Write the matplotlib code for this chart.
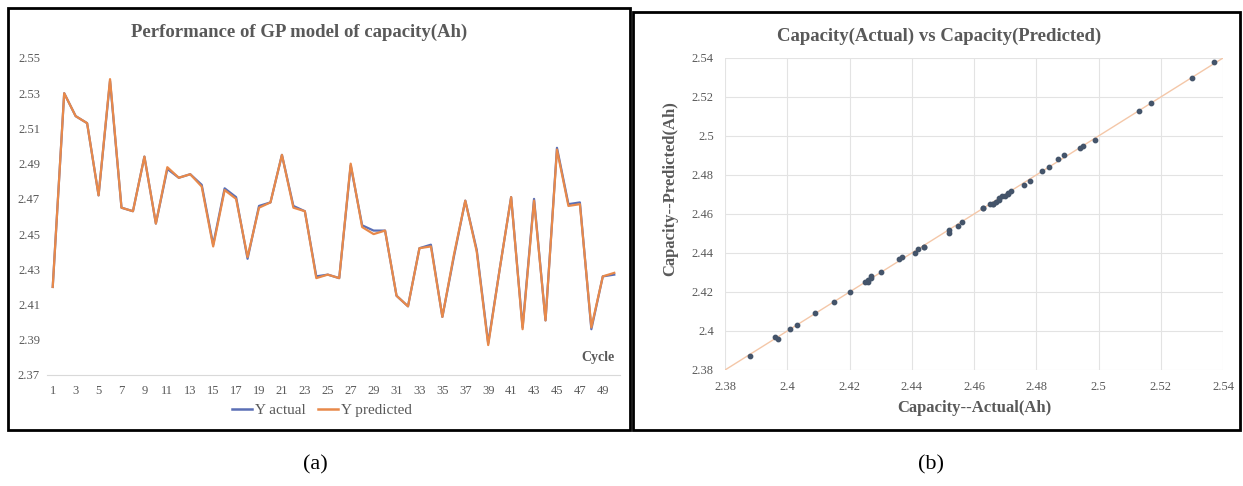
import matplotlib.pyplot as plt
from matplotlib.patches import Rectangle
from matplotlib.lines import Line2D

plt.rcParams['font.family'] = ['Liberation Serif', 'DejaVu Serif']

# Dane: pojemność rzeczywista i przewidywana (Ah) dla kolejnych cykli
cykle = list(range(1, 51))
y_actual = [2.420, 2.530, 2.517, 2.513, 2.472, 2.537, 2.465, 2.463, 2.494, 2.456,
            2.487, 2.482, 2.484, 2.478, 2.444, 2.476, 2.471, 2.436, 2.466, 2.468,
            2.495, 2.466, 2.463, 2.426, 2.427, 2.425, 2.489, 2.455, 2.452, 2.452,
            2.415, 2.409, 2.442, 2.444, 2.403, 2.437, 2.469, 2.441, 2.388, 2.430,
            2.471, 2.397, 2.470, 2.401, 2.499, 2.467, 2.468, 2.396, 2.426, 2.427]
y_predicted = [2.420, 2.530, 2.517, 2.513, 2.472, 2.538, 2.465, 2.463, 2.494, 2.456,
               2.488, 2.482, 2.484, 2.477, 2.443, 2.475, 2.470, 2.437, 2.465, 2.468,
               2.495, 2.465, 2.463, 2.425, 2.427, 2.425, 2.490, 2.454, 2.450, 2.452,
               2.415, 2.409, 2.442, 2.443, 2.403, 2.438, 2.469, 2.440, 2.387, 2.430,
               2.471, 2.396, 2.469, 2.401, 2.498, 2.466, 2.467, 2.397, 2.426, 2.428]

lewy_yticks = [2.37, 2.39, 2.41, 2.43, 2.45, 2.47, 2.49, 2.51, 2.53, 2.55]
prawy_ticks = [2.38, 2.40, 2.42, 2.44, 2.46, 2.48, 2.50, 2.52, 2.54]
prawy_labels = ["2.38", "2.4", "2.42", "2.44", "2.46", "2.48", "2.5", "2.52", "2.54"]

W, H = 1243, 486
szary = "#595959"
fig = plt.figure(figsize=(W / 100, H / 100), dpi=100)

def fx(px):
    return px / W

def fy(py):
    return 1 - py / H

# ramki wokół paneli
fig.patches.append(Rectangle((fx(8), fy(430)), fx(622), (422) / H, transform=fig.transFigure,
                             fill=False, edgecolor="black", linewidth=2))
fig.patches.append(Rectangle((fx(633), fy(430)), fx(607), (418) / H, transform=fig.transFigure,
                             fill=False, edgecolor="black", linewidth=2))

# --- Wykres (a): liniowy ---
ax1 = fig.add_axes([fx(47), fy(375), fx(573), (375 - 58) / H])
ax1.plot(cykle, y_actual, color="#5B6FB5", linewidth=1.6, label="Y actual")
ax1.plot(cykle, y_predicted, color="#E8894A", linewidth=1.6, label="Y predicted")
ax1.set_xlim(0.5, 50.5)
ax1.set_ylim(2.37, 2.55)
ax1.set_yticks(lewy_yticks)
ax1.set_yticklabels([f"{t:.2f}" for t in lewy_yticks])
ax1.set_xticks(cykle[::2])
for s in ["top", "right", "left"]:
    ax1.spines[s].set_visible(False)
ax1.spines["bottom"].set_color("#D9D9D9")
ax1.tick_params(length=0, labelsize=9, colors=szary)
ax1.tick_params(axis="y", pad=5)
ax1.tick_params(axis="x", pad=7)
ax1.set_title("Performance of GP model of capacity(Ah)", fontsize=13.5, fontweight="bold",
              color=szary, pad=15, x=0.44)
ax1.text(0.99, 0.055, "Cycle", transform=ax1.transAxes, ha="right", va="center",
         fontsize=10, fontweight="bold", color=szary)
fig.legend(handles=[Line2D([], [], color="#5B6FB5", linewidth=1.8),
                    Line2D([], [], color="#E8894A", linewidth=1.8)],
           labels=["Y actual", "Y predicted"], loc="center", bbox_to_anchor=(fx(322), fy(410)),
           ncol=2, frameon=False, fontsize=11, handlelength=1.3, handletextpad=0.2,
           columnspacing=0.8, labelcolor=szary)

# --- Wykres (b): punktowy ---
ax2 = fig.add_axes([fx(725), fy(370), fx(498), (370 - 58) / H])
ax2.plot([2.38, 2.54], [2.38, 2.54], color="#F4C7A8", linewidth=1, zorder=2)
ax2.scatter(y_actual, y_predicted, s=10, color="#44546A", zorder=3)
ax2.set_xlim(2.38, 2.54)
ax2.set_ylim(2.38, 2.54)
ax2.set_xticks(prawy_ticks)
ax2.set_xticklabels(prawy_labels)
ax2.set_yticks(prawy_ticks)
ax2.set_yticklabels(prawy_labels)
ax2.grid(True, color="#E3E3E3", linewidth=0.8, zorder=0)
ax2.set_axisbelow(True)
for s in ax2.spines.values():
    s.set_visible(False)
ax2.tick_params(length=0, labelsize=9, colors=szary, pad=8)
ax2.set_title("Capacity(Actual) vs Capacity(Predicted)", fontsize=13.5, fontweight="bold",
              color=szary, pad=12, x=0.43)
ax2.set_xlabel("Capacity--Actual(Ah)", fontsize=12, fontweight="bold", color=szary, labelpad=5)
ax2.set_ylabel("Capacity--Predicted(Ah)", fontsize=12, fontweight="bold", color=szary,
               labelpad=10, y=0.58)

fig.text(fx(315), fy(465), "(a)", ha="center", va="center", fontsize=16)
fig.text(fx(931), fy(465), "(b)", ha="center", va="center", fontsize=16)

plt.savefig("out.png", dpi=100)
